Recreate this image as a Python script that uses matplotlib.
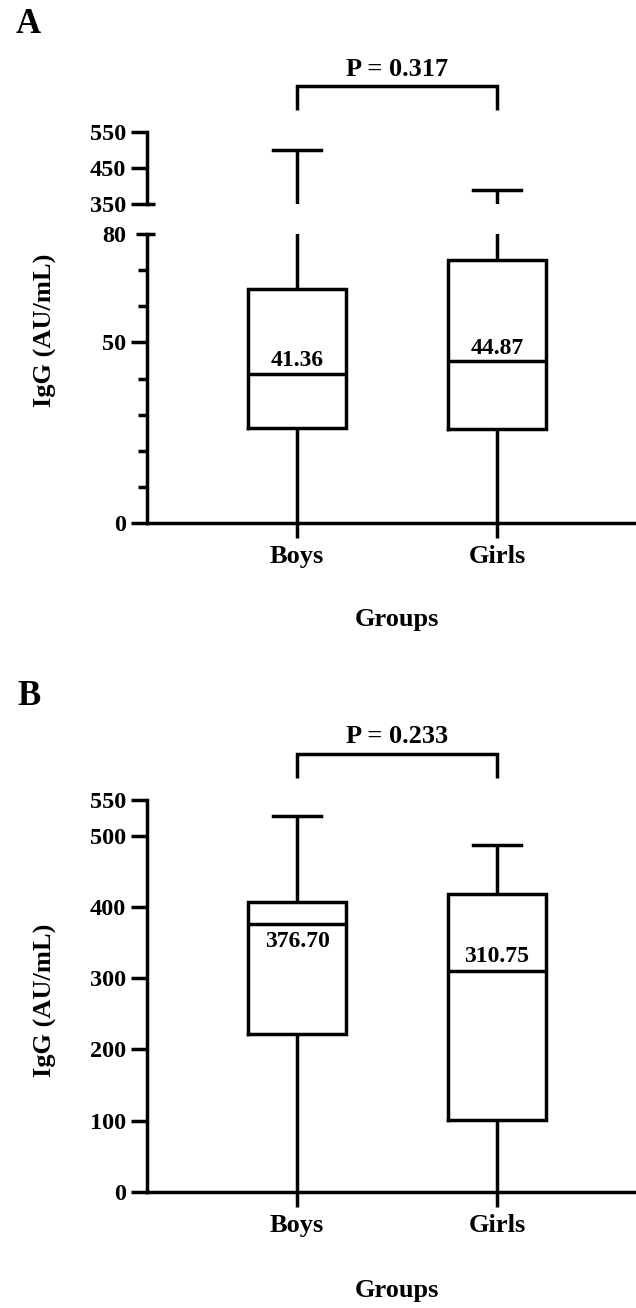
import matplotlib
matplotlib.use("Agg")
import matplotlib.pyplot as plt

plt.rcParams["font.family"] = ["Liberation Serif", "DejaVu Serif"]
plt.rcParams["font.weight"] = "bold"
plt.rcParams["axes.labelweight"] = "bold"

W, H, DPI = 636, 1308, 100

groups = ["Boys", "Girls"]
positions = [1, 2]

# Panel A - broken y axis (0-80 / 350-550)
a_q1 = [26.4, 26.1]
a_med = [41.36, 44.87]
a_q3 = [64.9, 72.8]
a_min = [0, 0]
a_max = [500, 390]
a_p_text = "P = 0.317"

# Panel B
b_q1 = [222, 101]
b_med = [376.70, 310.75]
b_q3 = [406.6, 418]
b_min = [0, 0]
b_max = [528, 487]
b_p_text = "P = 0.233"

LW = 2.5
PX = 72 / DPI  # points per pixel


def px_axes(fig, x0, ytop, x1, ybot):
    return fig.add_axes([x0 / W, 1 - ybot / H, (x1 - x0) / W, (ybot - ytop) / H])


def make_stats(q1, med, q3, lo, hi):
    return [dict(q1=a, med=b, q3=c, whislo=d, whishi=e, fliers=[])
            for a, b, c, d, e in zip(q1, med, q3, lo, hi)]


def draw_boxes(ax, stats):
    props = dict(color="black", linewidth=LW, solid_joinstyle="miter")
    parts = ax.bxp(stats, positions=positions, widths=0.49, capwidths=0.24,
                   showfliers=False, boxprops=props, whiskerprops=props,
                   capprops=props, medianprops=props, manage_ticks=False)
    # the lower whiskers run down to 0, no cap drawn there
    for cap in parts["caps"][::2]:
        cap.set_visible(False)
    for wh in parts["whiskers"]:
        wh.set_solid_capstyle("butt")
    ax.set_xlim(0.25, 2.695)


def style_y(ax, ticks, minor=None):
    ax.set_yticks(ticks)
    if minor is not None:
        ax.set_yticks(minor, minor=True)
    ax.tick_params(axis="y", which="major", length=16 * PX, width=LW,
                   pad=5 * PX, labelsize=17.5)
    ax.tick_params(axis="y", which="minor", length=9 * PX, width=LW)
    for s in ("top", "right"):
        ax.spines[s].set_visible(False)
    for s in ("left", "bottom"):
        ax.spines[s].set_linewidth(LW)


def style_x(ax):
    ax.set_xticks(positions, groups)
    ax.tick_params(axis="x", which="major", bottom=True, direction="out",
                   length=15 * PX, width=LW, pad=7 * PX, labelsize=19)


def break_mark(ax, y):
    ax.plot([0, 8 / (W - 147)], [y, y], transform=ax.get_yaxis_transform(),
            color="black", lw=LW, clip_on=False, solid_capstyle="butt")


def bracket(ax, leg_y, top_y, text_y, text):
    ax.plot([1, 1, 2, 2], [leg_y, top_y, top_y, leg_y], color="black", lw=LW,
            clip_on=False, solid_joinstyle="miter", solid_capstyle="butt")
    ax.text(1.5, text_y, text, ha="center", va="baseline", fontsize=19,
            clip_on=False)


def median_labels(ax, meds, offsets):
    for x, m, off in zip(positions, meds, offsets):
        ax.annotate(f"{m:.2f}", (x, m), xytext=(0, off), textcoords="offset points",
                    ha="center", va="baseline", fontsize=17)


fig = plt.figure(figsize=(W / DPI, H / DPI), dpi=DPI)
fig.patch.set_facecolor("white")

# ---- Panel A ----
a_stats = make_stats(a_q1, a_med, a_q3, a_min, a_max)

axU = px_axes(fig, 147, 132, W, 204)
draw_boxes(axU, a_stats)
axU.set_ylim(350, 550)
style_y(axU, [350, 450, 550])
axU.spines["bottom"].set_visible(False)
axU.set_xticks([])
break_mark(axU, 350)
bracket(axU, 611, 678, 705, a_p_text)

axL = px_axes(fig, 147, 234, W, 523)
draw_boxes(axL, a_stats)
axL.set_ylim(0, 80)
style_y(axL, [0, 50, 80], minor=[10, 20, 30, 40, 60, 70])
axL.yaxis.get_major_ticks()[2].tick1line.set_markersize(11 * PX)
style_x(axL)
break_mark(axL, 80)
median_labels(axL, a_med, [8 * PX, 7.4 * PX])
axL.set_ylabel("IgG (AU/mL)", fontsize=19)
axL.yaxis.set_label_coords((57 - 147) / (W - 147), (523 - 330) / 289)
axL.set_xlabel("Groups", fontsize=19)
axL.xaxis.set_label_coords((397 - 147) / (W - 147), (523 - 608) / 289)

fig.text(16 / W, 1 - 33 / H, "A", fontsize=25, va="baseline")

# ---- Panel B ----
b_stats = make_stats(b_q1, b_med, b_q3, b_min, b_max)

axB = px_axes(fig, 147, 800, W, 1192)
draw_boxes(axB, b_stats)
axB.set_ylim(0, 550)
style_y(axB, [0, 100, 200, 300, 400, 500, 550])
style_x(axB)
median_labels(axB, b_med, [-23.7 * PX, 9 * PX])
bracket(axB, 580.6, 614, 630, b_p_text)
axB.set_ylabel("IgG (AU/mL)", fontsize=19)
axB.yaxis.set_label_coords((57 - 147) / (W - 147), (1192 - 1000) / 392)
axB.set_xlabel("Groups", fontsize=19)
axB.xaxis.set_label_coords((397 - 147) / (W - 147), (1192 - 1279) / 392)

fig.text(17 / W, 1 - 705 / H, "B", fontsize=25, va="baseline")

fig.savefig("out.png", dpi=DPI, facecolor="white")
